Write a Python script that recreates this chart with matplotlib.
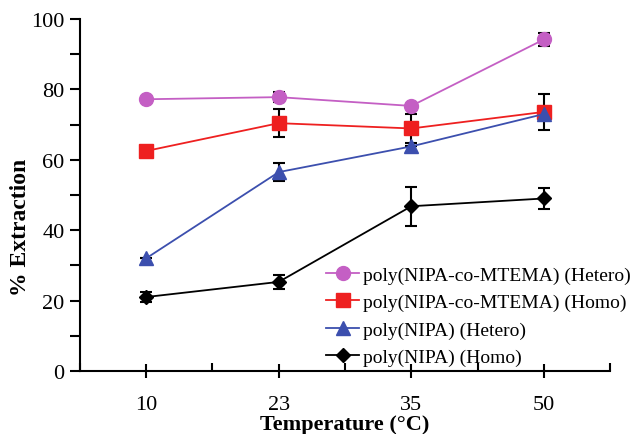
import numpy as np
import matplotlib
matplotlib.use("Agg")
import matplotlib.pyplot as plt
from matplotlib.ticker import MultipleLocator

temps = ["10", "23", "35", "50"]

co_hetero     = [77.2, 77.8, 75.3, 94.2]
co_hetero_err = [0.0, 1.5, 0.0, 1.8]
co_homo       = [62.5, 70.4, 68.9, 73.6]
co_homo_err   = [0.0, 4.0, 4.0, 5.0]
nipa_hetero     = [32.0, 56.5, 63.8, 73.0]
nipa_hetero_err = [0.0, 2.6, 0.0, 0.0]
nipa_homo     = [21.0, 25.3, 46.8, 49.0]
nipa_homo_err = [1.5, 2.0, 5.6, 3.0]

labels = [
    "poly(NIPA-co-MTEMA) (Hetero)",
    "poly(NIPA-co-MTEMA) (Homo)",
    "poly(NIPA) (Hetero)",
    "poly(NIPA) (Homo)",
]

plt.rcParams["font.family"] = ["Liberation Serif", "DejaVu Serif"]

fig = plt.figure(figsize=(6.39, 4.35), dpi=100)
ax = fig.add_axes([0.125, 0.145, 0.83, 0.809])

x = np.arange(len(temps))
series = [
    (co_hetero, co_hetero_err, "#c45fc4", "o", 10),
    (co_homo, co_homo_err, "#ee2020", "s", 9.5),
    (nipa_hetero, nipa_hetero_err, "#3c4fae", "^", 10),
    (nipa_homo, nipa_homo_err, "black", "D", 7),
]

handles = []
for (vals, errs, col, mk, ms), lab in zip(series, labels):
    ax.errorbar(x, vals, yerr=errs, fmt="none", ecolor="black",
                elinewidth=1.5, capsize=4, capthick=1.5, zorder=2)
    h, = ax.plot(x, vals, color=col, marker=mk, markersize=ms,
                 linewidth=1.3, label=lab, zorder=3)
    handles.append(h)

ax.set_xlim(-0.5, 3.5)
ax.set_ylim(0, 100)
ax.set_xticks(x)
ax.set_xticklabels(temps)
ax.xaxis.set_minor_locator(MultipleLocator(0.5))
ax.yaxis.set_major_locator(MultipleLocator(20))
ax.yaxis.set_minor_locator(MultipleLocator(10))

for s in ["top", "right"]:
    ax.spines[s].set_visible(False)
ax.spines["left"].set_linewidth(1.5)
ax.spines["bottom"].set_linewidth(1.5)

ax.tick_params(axis="y", which="major", direction="out", length=7, width=1.5,
               labelsize=16, pad=4)
ax.tick_params(axis="y", which="minor", direction="out", length=7, width=1.5)
ax.tick_params(axis="x", which="major", direction="inout", length=10, width=1.5,
               labelsize=16, pad=12)
ax.tick_params(axis="x", which="minor", direction="in", length=6, width=1.5)

ax.set_xlabel("Temperature (°C)", fontsize=16, fontweight="bold", labelpad=0)
ax.set_ylabel("% Extraction", fontsize=17, fontweight="bold")
ax.yaxis.set_label_coords(-0.092, 0.41)

ax.legend(handles=handles, loc="lower right", bbox_to_anchor=(1.065, -0.025),
          frameon=False, fontsize=14, handlelength=1.7, handletextpad=0.2,
          labelspacing=0.5, borderaxespad=0.3)

fig.savefig("out.png", dpi=100)
